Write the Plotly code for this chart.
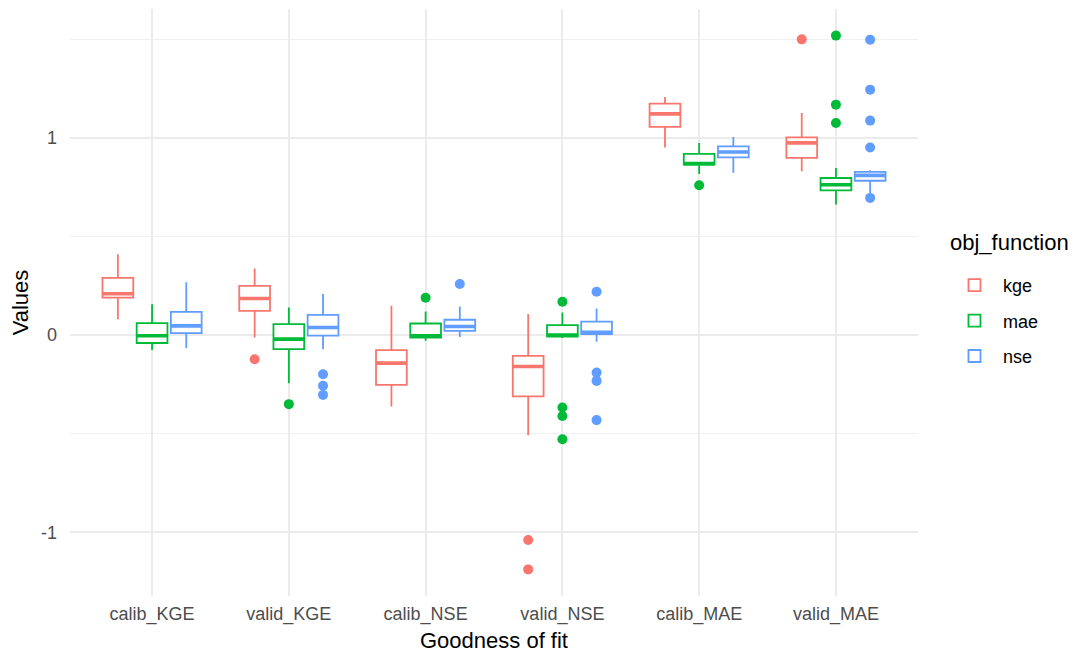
import plotly.graph_objects as go

categories = ["calib_KGE", "valid_KGE", "calib_NSE", "valid_NSE", "calib_MAE", "valid_MAE"]
groups = ["kge", "mae", "nse"]
colors = {"kge": "#F8766D", "mae": "#00BA38", "nse": "#619CFF"}

# box statistics per group, one value per category
lower = {
    "kge": [0.08, -0.012, -0.362, -0.508, 0.952, 0.831],
    "mae": [-0.076, -0.244, -0.029, -0.015, 0.817, 0.662],
    "nse": [-0.066, -0.071, -0.009, -0.034, 0.823, 0.712],
}
q1 = {
    "kge": [0.19, 0.123, -0.252, -0.311, 1.056, 0.899],
    "mae": [-0.04, -0.071, -0.012, -0.007, 0.865, 0.734],
    "nse": [0.01, -0.003, 0.022, 0.005, 0.902, 0.783],
}
median = {
    "kge": [0.21, 0.186, -0.142, -0.159, 1.122, 0.975],
    "mae": [-0.003, -0.02, -0.003, 0.0, 0.87, 0.763],
    "nse": [0.047, 0.039, 0.044, 0.014, 0.929, 0.81],
}
q3 = {
    "kge": [0.29, 0.25, -0.076, -0.105, 1.174, 1.003],
    "mae": [0.061, 0.056, 0.059, 0.051, 0.919, 0.797],
    "nse": [0.118, 0.103, 0.078, 0.068, 0.957, 0.828],
}
upper = {
    "kge": [0.41, 0.338, 0.149, 0.107, 1.208, 1.127],
    "mae": [0.157, 0.14, 0.12, 0.115, 0.975, 0.848],
    "nse": [0.268, 0.208, 0.145, 0.135, 1.005, 0.836],
}
# outliers: (category, value)
outliers = {
    "kge": [("valid_KGE", -0.122), ("valid_NSE", -1.039), ("valid_NSE", -1.188),
            ("valid_MAE", 1.5)],
    "mae": [("valid_KGE", -0.35), ("calib_NSE", 0.19), ("valid_NSE", 0.169),
            ("valid_NSE", -0.367), ("valid_NSE", -0.41), ("valid_NSE", -0.528),
            ("calib_MAE", 0.76), ("valid_MAE", 1.519), ("valid_MAE", 1.169),
            ("valid_MAE", 1.076)],
    "nse": [("valid_KGE", -0.198), ("valid_KGE", -0.257), ("valid_KGE", -0.303),
            ("calib_NSE", 0.259), ("valid_NSE", 0.22), ("valid_NSE", -0.19),
            ("valid_NSE", -0.232), ("valid_NSE", -0.431), ("valid_MAE", 1.498),
            ("valid_MAE", 1.245), ("valid_MAE", 1.088), ("valid_MAE", 0.952),
            ("valid_MAE", 0.696)],
}

dodge = 0.25
box_w = 0.225
offsets = {g: (i - 1) * dodge for i, g in enumerate(groups)}
cat_pos = {c: i + 1 for i, c in enumerate(categories)}

fig = go.Figure()
for g in groups:
    xs = [cat_pos[c] + offsets[g] for c in categories]
    fig.add_trace(go.Box(
        x=xs, q1=q1[g], median=median[g], q3=q3[g],
        lowerfence=lower[g], upperfence=upper[g],
        name=g, legendgroup=g, width=box_w, whiskerwidth=0,
        line=dict(color=colors[g], width=1.8), fillcolor="white",
        boxpoints=False, hoverinfo="skip",
    ))
    # thicker median bar
    fig.add_trace(go.Box(
        x=xs, q1=median[g], median=median[g], q3=median[g],
        lowerfence=median[g], upperfence=median[g],
        name=g, legendgroup=g, showlegend=False, width=box_w, whiskerwidth=0,
        line=dict(color=colors[g], width=3.6), fillcolor="white",
        boxpoints=False, hoverinfo="skip",
    ))
    fig.add_trace(go.Scatter(
        x=[cat_pos[c] + offsets[g] for c, v in outliers[g]],
        y=[v for c, v in outliers[g]],
        mode="markers", marker=dict(color=colors[g], size=10),
        name=g, legendgroup=g, showlegend=False, hoverinfo="skip",
    ))

font = "Liberation Sans, Arial, sans-serif"
fig.update_layout(
    width=1073, height=646,
    margin=dict(l=62, r=163, t=1, b=58, autoexpand=False),
    plot_bgcolor="white", paper_bgcolor="white",
    font=dict(family=font, color="black"),
    showlegend=True,
    legend=dict(
        font=dict(size=18, color="black"),
        x=1.033, xanchor="left", y=0.5605, yanchor="top",
        tracegroupgap=9, traceorder="grouped", itemwidth=47,
        bgcolor="rgba(0,0,0,0)",
    ),
    annotations=[dict(
        text="obj_function", xref="paper", yref="paper",
        x=1.0354, y=0.6014, xanchor="left", yanchor="middle",
        showarrow=False, font=dict(size=22, color="black"),
    )],
    xaxis=dict(
        range=[0.4, 6.6], tickvals=list(range(1, 7)), ticktext=categories,
        showgrid=True, gridcolor="#EBEBEB", gridwidth=1.8, zeroline=False,
        showline=False, ticks="", tickfont=dict(size=18, color="#4D4D4D"),
        ticklabelstandoff=5, automargin=False,
        title=dict(text="Goodness of fit", font=dict(size=22, color="black"), standoff=8),
    ),
    yaxis=dict(
        range=[-1.323, 1.654], tickvals=[-1, 0, 1], ticktext=["-1", "0", "1"],
        showgrid=True, gridcolor="#EBEBEB", gridwidth=1.8, zeroline=False,
        showline=False, ticks="", tickfont=dict(size=18, color="#4D4D4D"),
        ticklabelstandoff=12, automargin=False,
        minor=dict(tickvals=[-0.5, 0.5, 1.5], showgrid=True, gridcolor="#F0F0F0", gridwidth=0.9),
        title=dict(text="Values", font=dict(size=22, color="black"), standoff=10),
    ),
)

fig.write_html("out.html")
